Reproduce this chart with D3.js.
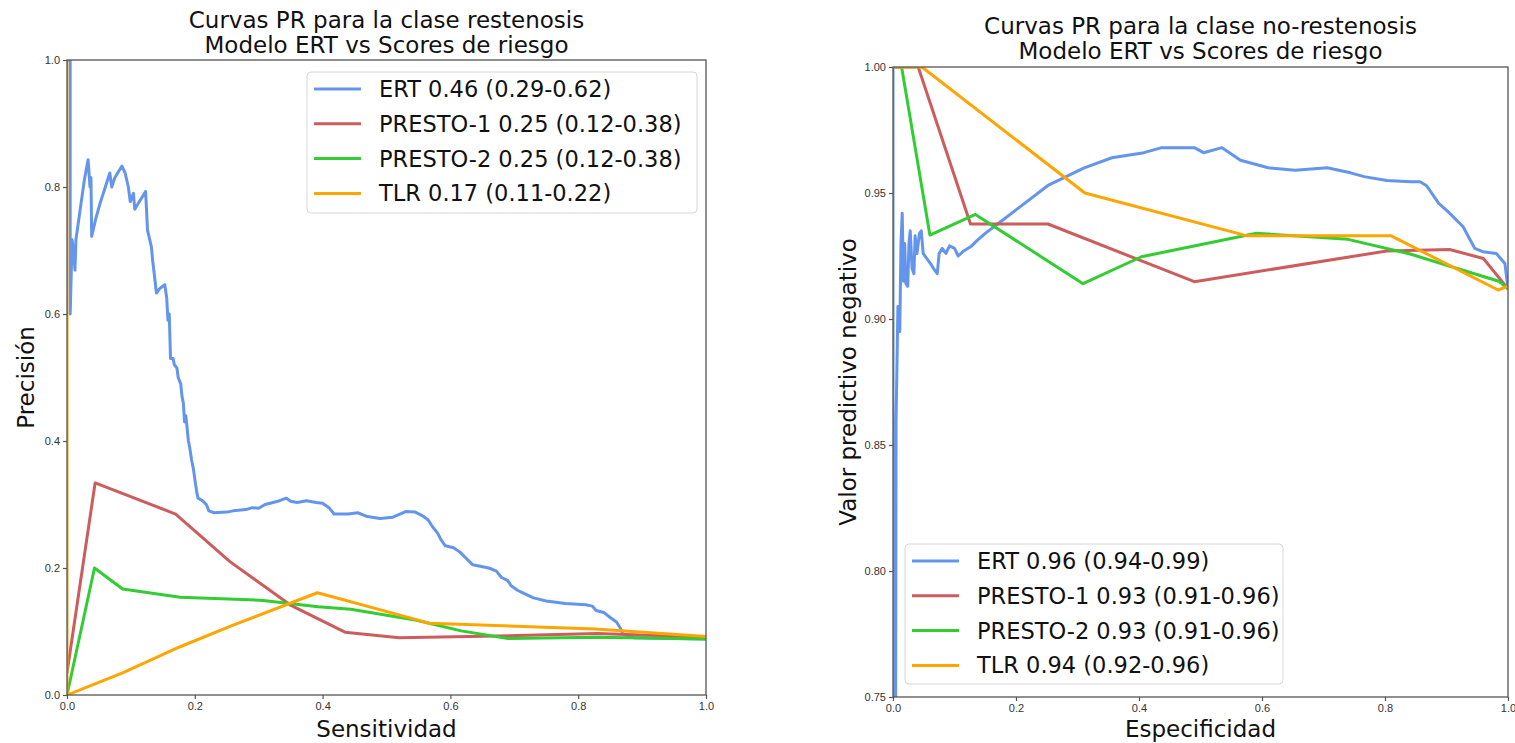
<!DOCTYPE html>
<html>
<head>
<meta charset="utf-8">
<script src="https://cdn.jsdelivr.net/npm/d3@7"></script>
<style>
  body { margin: 0; background: #fff; }
  svg { display: block; font-family: "DejaVu Sans", sans-serif; }
</style>
</head>
<body>
<div id="chart"></div>
<script>
// colours follow the matplotlib named colours used in the original figure
const seriesColors = ["cornflowerblue", "indianred", "limegreen", "orange"];

const restLabels = ["ERT 0.46 (0.29-0.62)", "PRESTO-1 0.25 (0.12-0.38)", "PRESTO-2 0.25 (0.12-0.38)", "TLR 0.17 (0.11-0.22)"];
const noRestLabels = ["ERT 0.96 (0.94-0.99)", "PRESTO-1 0.93 (0.91-0.96)", "PRESTO-2 0.93 (0.91-0.96)", "TLR 0.94 (0.92-0.96)"];

const xTicks = [0, 0.2, 0.4, 0.6, 0.8, 1.0];
const restYTicks = [0, 0.2, 0.4, 0.6, 0.8, 1.0];
const noRestYTicks = [0.75, 0.80, 0.85, 0.90, 0.95, 1.00];

// clase restenosis: [sensitividad, precision]
const restERT = [[0,1],[0.005,1],[0.005,0.60],[0.008,0.717],[0.01,0.70],[0.0125,0.669],[0.014,0.717],
  [0.02,0.76],[0.027,0.81],[0.033,0.843],[0.036,0.80],[0.0375,0.815],[0.0386,0.722],[0.045,0.75],
  [0.052,0.775],[0.06,0.80],[0.067,0.822],[0.07,0.80],[0.075,0.815],[0.086,0.833],[0.091,0.822],
  [0.096,0.80],[0.099,0.777],[0.104,0.79],[0.106,0.765],[0.115,0.78],[0.123,0.793],[0.126,0.732],
  [0.132,0.706],[0.134,0.685],[0.14,0.633],[0.145,0.64],[0.153,0.646],[0.156,0.626],[0.158,0.59],
  [0.16,0.60],[0.162,0.53],[0.166,0.53],[0.168,0.52],[0.172,0.515],[0.174,0.50],[0.178,0.49],
  [0.18,0.47],[0.182,0.46],[0.184,0.43],[0.186,0.44],[0.19,0.40],[0.192,0.39],[0.195,0.37],
  [0.198,0.355],[0.2,0.34],[0.203,0.32],[0.205,0.31],[0.212,0.306],[0.218,0.30],[0.222,0.29],
  [0.23,0.287],[0.25,0.288],[0.26,0.29],[0.28,0.292],[0.29,0.295],[0.3,0.294],[0.31,0.3],
  [0.33,0.305],[0.343,0.31],[0.35,0.305],[0.36,0.303],[0.375,0.306],[0.39,0.303],[0.4,0.302],
  [0.41,0.295],[0.418,0.285],[0.44,0.285],[0.455,0.287],[0.47,0.281],[0.49,0.278],[0.51,0.28],
  [0.531,0.289],[0.545,0.288],[0.555,0.283],[0.565,0.276],[0.572,0.265],[0.58,0.255],[0.585,0.245],
  [0.592,0.235],[0.605,0.232],[0.615,0.225],[0.625,0.215],[0.635,0.205],[0.66,0.2],[0.672,0.195],
  [0.68,0.185],[0.69,0.18],[0.695,0.172],[0.705,0.165],[0.715,0.16],[0.73,0.153],[0.75,0.148],
  [0.78,0.144],[0.812,0.142],[0.822,0.14],[0.828,0.133],[0.84,0.13],[0.85,0.122],[0.86,0.115],
  [0.866,0.105],[0.87,0.096],[0.887,0.09],[0.95,0.089],[1.0,0.088]];
const restPresto1 = [[0,0.035],[0.044,0.334],[0.17,0.285],[0.255,0.21],[0.349,0.142],[0.435,0.099],
  [0.52,0.09],[0.72,0.094],[0.83,0.097],[1.0,0.091]];
const restPresto2 = [[0,0],[0.043,0.2],[0.087,0.167],[0.177,0.154],[0.307,0.149],[0.393,0.139],
  [0.444,0.135],[0.545,0.118],[0.617,0.101],[0.69,0.089],[0.83,0.091],[1.0,0.088]];
const restTLR = [[0,1],[0,0],[0.087,0.035],[0.177,0.076],[0.26,0.11],[0.392,0.161],[0.531,0.123],
  [0.567,0.113],[0.827,0.104],[1.0,0.092]];

// clase no-restenosis: [especificidad, valor predictivo negativo]
const noRestERT = [[0,1],[0,0.70],[0.004,0.70],[0.005,0.86],[0.007,0.89],[0.008,0.905],[0.011,0.895],
  [0.013,0.93],[0.015,0.942],[0.017,0.915],[0.019,0.93],[0.021,0.914],[0.024,0.913],[0.026,0.93],
  [0.028,0.935],[0.031,0.92],[0.034,0.918],[0.036,0.933],[0.039,0.926],[0.043,0.934],[0.046,0.935],
  [0.049,0.926],[0.055,0.924],[0.061,0.922],[0.066,0.92],[0.072,0.918],[0.075,0.926],[0.08,0.928],
  [0.086,0.926],[0.092,0.929],[0.1,0.928],[0.106,0.925],[0.115,0.927],[0.128,0.929],[0.136,0.931],
  [0.15,0.934],[0.177,0.939],[0.207,0.9446],[0.252,0.953],[0.311,0.96],[0.356,0.964],[0.408,0.966],
  [0.437,0.968],[0.49,0.968],[0.505,0.966],[0.535,0.968],[0.565,0.963],[0.61,0.96],[0.654,0.959],
  [0.706,0.96],[0.744,0.958],[0.766,0.9565],[0.803,0.955],[0.841,0.9545],[0.857,0.9545],
  [0.867,0.953],[0.873,0.951],[0.887,0.946],[0.905,0.942],[0.927,0.9366],[0.946,0.928],
  [0.959,0.9267],[0.981,0.926],[0.995,0.922],[1.0,0.912]];
const noRestPresto1 = [[0,1],[0.041,1],[0.126,0.9377],[0.252,0.9377],[0.49,0.9148],[0.803,0.927],
  [0.905,0.9276],[0.96,0.924],[1.0,0.912]];
const noRestPresto2 = [[0,1],[0.014,1],[0.06,0.9333],[0.134,0.9415],[0.309,0.914],[0.404,0.9247],
  [0.591,0.934],[0.74,0.9316],[0.841,0.9258],[0.985,0.915],[1.0,0.912]];
const noRestTLR = [[0,1],[0.047,1],[0.312,0.95],[0.576,0.933],[0.81,0.933],[0.984,0.9115],[1.0,0.913]];

const width = 1515, height = 743;
const svg = d3.select('#chart').append('svg')
    .attr('width', width)
    .attr('height', height);

const panels = [
  {
    id: 'rest', left: 67, right: 706, top: 60, bottom: 695,
    yDomain: [0, 1], yTicks: restYTicks, yFormat: d3.format('.1f'),
    title: ['Curvas PR para la clase restenosis', 'Modelo ERT vs Scores de riesgo'], titleY: 28,
    xLabel: 'Sensitividad', yLabel: 'Precisión', yLabelX: 34,
    series: [restERT, restPresto1, restPresto2, restTLR], labels: restLabels,
    legend: { x: 307, y: 72, w: 390, h: 141 }
  },
  {
    id: 'norest', left: 893, right: 1508, top: 67, bottom: 697,
    yDomain: [0.75, 1], yTicks: noRestYTicks, yFormat: d3.format('.2f'),
    title: ['Curvas PR para la clase no-restenosis', 'Modelo ERT vs Scores de riesgo'], titleY: 34,
    xLabel: 'Especificidad', yLabel: 'Valor predictivo negativo', yLabelX: 856,
    series: [noRestERT, noRestPresto1, noRestPresto2, noRestTLR], labels: noRestLabels,
    legend: { x: 905, y: 544, w: 378, h: 140 }
  }
];

panels.forEach(p => {
  const x = d3.scaleLinear().domain([0, 1]).range([p.left, p.right]);
  const y = d3.scaleLinear().domain(p.yDomain).range([p.bottom, p.top]);
  const g = svg.append('g');

  // clip the curves to the axes box
  g.append('clipPath').attr('id', 'clip-' + p.id)
    .append('rect')
    .attr('x', p.left).attr('y', p.top)
    .attr('width', p.right - p.left).attr('height', p.bottom - p.top);

  const line = d3.line().x(d => x(d[0])).y(d => y(d[1]));
  g.append('g').attr('clip-path', 'url(#clip-' + p.id + ')')
    .selectAll('path')
    .data(p.series)
    .join('path')
    .attr('d', line)
    .attr('fill', 'none')
    .attr('stroke', (d, i) => seriesColors[i])
    .attr('stroke-width', 3)
    .attr('stroke-linejoin', 'round');

  // axes
  const xAxis = g.append('g')
    .attr('transform', `translate(0,${p.bottom})`)
    .call(d3.axisBottom(x).tickValues(xTicks).tickFormat(d3.format('.1f')).tickSize(4).tickPadding(3));
  const yAxis = g.append('g')
    .attr('transform', `translate(${p.left},0)`)
    .call(d3.axisLeft(y).tickValues(p.yTicks).tickFormat(p.yFormat).tickSize(4).tickPadding(3));
  [xAxis, yAxis].forEach(a => {
    a.select('.domain').remove();
    a.selectAll('line').attr('stroke', '#555').attr('stroke-width', 1.2);
    a.selectAll('text').attr('fill', '#333').style('font-size', '11px');
  });

  // frame on top of the curves
  g.append('rect')
    .attr('x', p.left).attr('y', p.top)
    .attr('width', p.right - p.left).attr('height', p.bottom - p.top)
    .attr('fill', 'none').attr('stroke', '#555').attr('stroke-width', 1.3);

  // title
  const cx = (p.left + p.right) / 2;
  g.append('text')
    .attr('x', cx).attr('y', p.titleY)
    .attr('text-anchor', 'middle')
    .style('font-size', '23px').attr('fill', '#111')
    .selectAll('tspan')
    .data(p.title)
    .join('tspan')
    .attr('x', cx)
    .attr('dy', (d, i) => i === 0 ? 0 : 24.5)
    .text(d => d);

  // axis labels
  g.append('text')
    .attr('x', cx).attr('y', 737)
    .attr('text-anchor', 'middle')
    .style('font-size', '23px').attr('fill', '#111')
    .text(p.xLabel);
  g.append('text')
    .attr('transform', `translate(${p.yLabelX},${(p.top + p.bottom) / 2}) rotate(-90)`)
    .attr('text-anchor', 'middle')
    .style('font-size', '23px').attr('fill', '#111')
    .text(p.yLabel);

  // legend
  const L = p.legend;
  const lg = g.append('g').attr('transform', `translate(${L.x},${L.y})`);
  lg.append('rect')
    .attr('width', L.w).attr('height', L.h).attr('rx', 4)
    .attr('fill', '#fff').attr('fill-opacity', 0.85)
    .attr('stroke', '#d6d6d6').attr('stroke-width', 1);
  const rows = lg.selectAll('g.row')
    .data(p.labels)
    .join('g')
    .attr('class', 'row')
    .attr('transform', (d, i) => `translate(0,${17 + i * 34.8})`);
  rows.append('line')
    .attr('x1', 7).attr('x2', 54)
    .attr('stroke', (d, i) => seriesColors[i])
    .attr('stroke-width', 3);
  rows.append('text')
    .attr('x', 72).attr('y', 8)
    .style('font-size', '22.5px').attr('fill', '#111')
    .text(d => d);
});
</script>
</body>
</html>
